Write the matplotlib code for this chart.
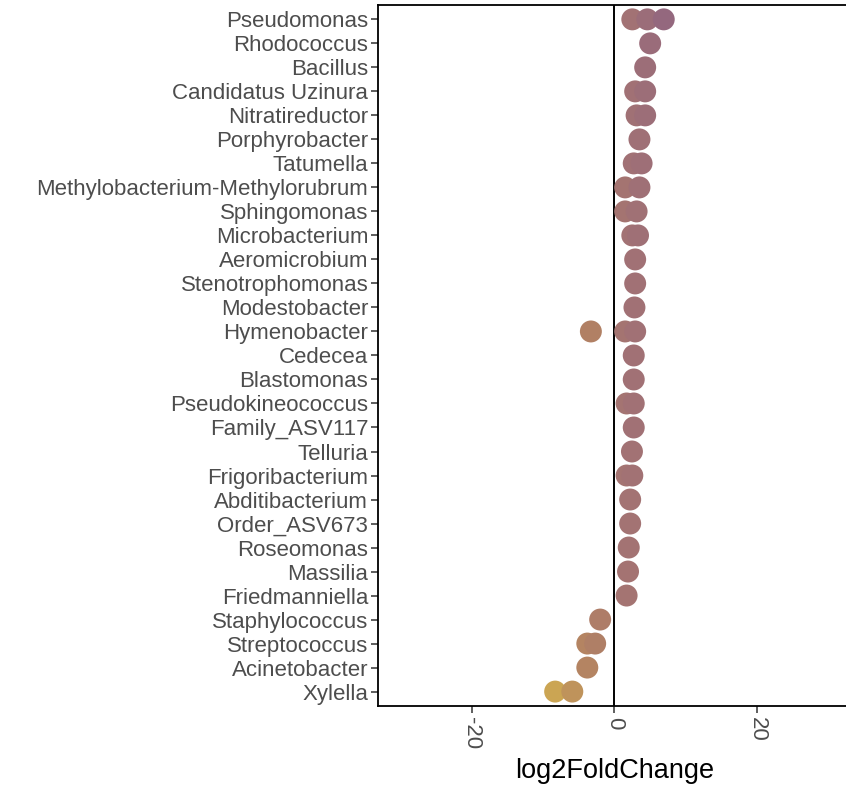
import matplotlib

matplotlib.use("Agg")
import matplotlib.pyplot as plt
from matplotlib.colors import LinearSegmentedColormap, Normalize

plt.rcParams["font.family"] = ["Liberation Sans", "DejaVu Sans"]

GENERA = [
    "Pseudomonas",
    "Rhodococcus",
    "Bacillus",
    "Candidatus Uzinura",
    "Nitratireductor",
    "Porphyrobacter",
    "Tatumella",
    "Methylobacterium-Methylorubrum",
    "Sphingomonas",
    "Microbacterium",
    "Aeromicrobium",
    "Stenotrophomonas",
    "Modestobacter",
    "Hymenobacter",
    "Cedecea",
    "Blastomonas",
    "Pseudokineococcus",
    "Family_ASV117",
    "Telluria",
    "Frigoribacterium",
    "Abditibacterium",
    "Order_ASV673",
    "Roseomonas",
    "Massilia",
    "Friedmanniella",
    "Staphylococcus",
    "Streptococcus",
    "Acinetobacter",
    "Xylella",
]

# one entry per ASV point
POINT_GENUS = [
    "Pseudomonas", "Pseudomonas", "Pseudomonas",
    "Rhodococcus",
    "Bacillus",
    "Candidatus Uzinura", "Candidatus Uzinura",
    "Nitratireductor", "Nitratireductor",
    "Porphyrobacter",
    "Tatumella", "Tatumella",
    "Methylobacterium-Methylorubrum", "Methylobacterium-Methylorubrum",
    "Sphingomonas", "Sphingomonas",
    "Microbacterium", "Microbacterium",
    "Aeromicrobium",
    "Stenotrophomonas",
    "Modestobacter",
    "Hymenobacter", "Hymenobacter", "Hymenobacter",
    "Cedecea",
    "Blastomonas",
    "Pseudokineococcus", "Pseudokineococcus",
    "Family_ASV117",
    "Telluria",
    "Frigoribacterium", "Frigoribacterium",
    "Abditibacterium",
    "Order_ASV673",
    "Roseomonas",
    "Massilia",
    "Friedmanniella",
    "Staphylococcus",
    "Streptococcus", "Streptococcus",
    "Acinetobacter",
    "Xylella", "Xylella",
]
POINT_LFC = [
    2.5, 4.6, 6.9,
    5.0,
    4.3,
    2.9, 4.3,
    3.1, 4.3,
    3.5,
    2.7, 3.8,
    1.5, 3.5,
    1.5, 3.1,
    2.5, 3.3,
    2.9,
    2.9,
    2.8,
    -3.3, 1.5, 2.9,
    2.7,
    2.7,
    1.7, 2.7,
    2.7,
    2.45,
    1.7, 2.5,
    2.2,
    2.2,
    2.0,
    1.9,
    1.7,
    -2.0,
    -3.8, -2.7,
    -3.8,
    -8.3, -5.9,
]

cmap = LinearSegmentedColormap.from_list(
    "lfc",
    [(0.0, "#CBA553"), (0.33, "#B18064"), (0.71, "#A27274"), (1.0, "#94687E")],
)

fig = plt.figure(figsize=(8.46, 7.86), dpi=100)
ax = fig.add_axes([0.4468, 0.1018, 0.559, 0.8919])

row = {g: i for i, g in enumerate(GENERA)}
ys = [row[g] for g in POINT_GENUS]

ax.axvline(0, color="black", lw=1.4, zorder=1)
ax.scatter(POINT_LFC, ys, s=250, c=POINT_LFC, cmap=cmap,
           norm=Normalize(min(POINT_LFC), max(POINT_LFC)),
           linewidths=0, zorder=2)

ax.set_xlim(-33.1, 33.1)
ax.set_ylim(len(GENERA) - 0.4, -0.6)
ax.set_yticks(range(len(GENERA)))
ax.set_yticklabels(GENERA)
ax.set_xticks([-20, 0, 20])
ax.set_xticklabels(["-20", "0", "20"], rotation=270)

ax.tick_params(axis="both", labelsize=16, labelcolor="#4D4D4D",
               color="#333333", length=5, width=1.1)
ax.tick_params(axis="y", pad=2)
ax.tick_params(axis="x", pad=3)
for sp in ax.spines.values():
    sp.set_linewidth(1.3)
    sp.set_color("black")

ax.set_xlabel("log2FoldChange", fontsize=19.5, labelpad=6)

fig.savefig("out.png", dpi=100)
